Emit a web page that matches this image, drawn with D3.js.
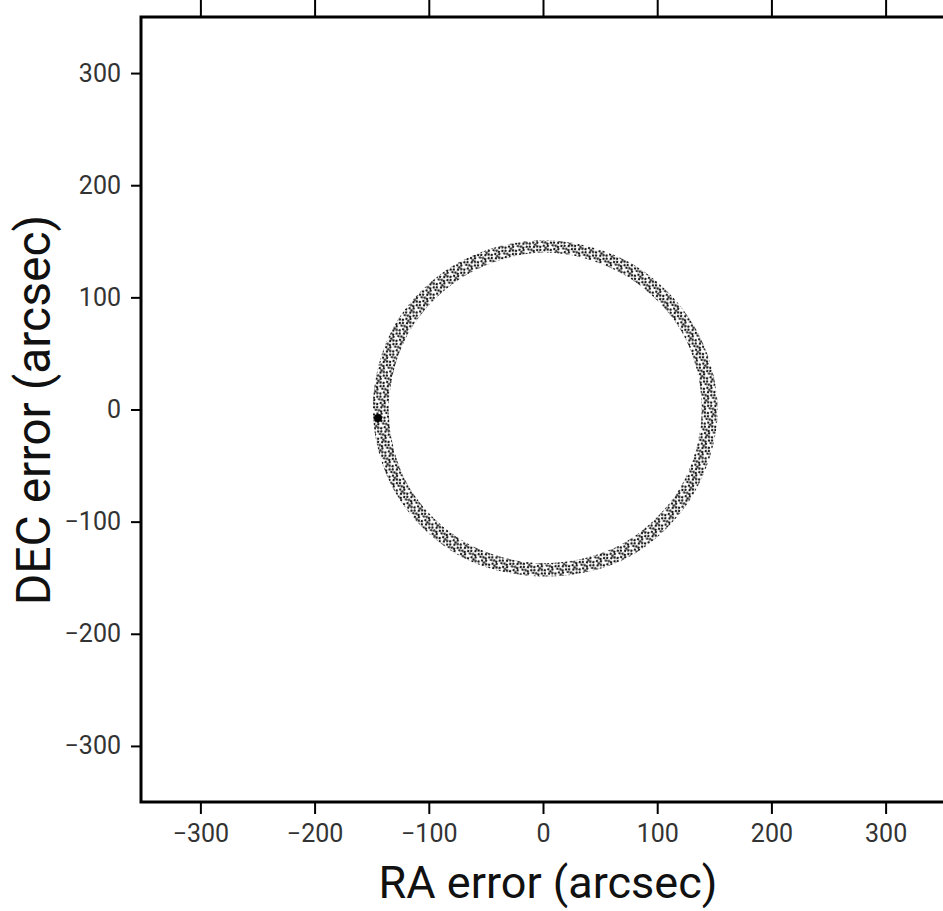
<!DOCTYPE html>
<html>
<head>
<meta charset="utf-8">
<script src="https://cdn.jsdelivr.net/npm/d3@7"></script>
<style>
  body { margin: 0; background: #fff; }
  .tick text { font-family: Roboto, "Open Sans", sans-serif; fill: #333; }
  .title { font-family: Roboto, "Open Sans", sans-serif; fill: #111; }
</style>
</head>
<body>
<div class="chart-container"></div>
<script>
// error ring: position angle (deg) and inner / outer radius (arcsec)
var ringAngle = [0, 30, 60, 90, 120, 150, 180, 210, 240, 270, 300, 330];
var ringInner = [138, 139, 139, 140, 138, 137, 136, 137, 137, 137, 138, 138];
var ringOuter = [152, 151, 151, 151, 151, 151, 150, 150, 150, 149, 151, 151];
var ringCenter = [1, 0];

// the single dense spot on the ring
var spotRA = [-144.5];
var spotDEC = [-7.6];

var xTicks = [-300, -200, -100, 0, 100, 200, 300];
var yTicks = [-300, -200, -100, 0, 100, 200, 300];

var W = 943, H = 911;
var margin = {top: 17, right: -2, bottom: 109, left: 141},
    width = W - margin.left - margin.right,
    height = H - margin.top - margin.bottom;

var x = d3.scaleLinear().domain([-352, 352]).range([0, width]),
    y = d3.scaleLinear().domain([-350, 350]).range([height, 0]);

var svg = d3.select(".chart-container").append("svg")
    .attr("width", W)
    .attr("height", H);

// stipple used to fill the ring band
var pat = svg.append("defs").append("pattern")
    .attr("id", "stipple")
    .attr("patternUnits", "userSpaceOnUse")
    .attr("width", 11).attr("height", 11)
    .attr("patternTransform", "rotate(17)");
[[1, 2], [5, 1], [9, 4], [3, 6], [7, 8], [1.5, 9.5], [9.5, 10], [6, 4.5], [4, 10], [10, 7], [3.5, 3.5]].forEach(function(p) {
    pat.append("circle").attr("cx", p[0]).attr("cy", p[1]).attr("r", 1.2).attr("fill", "#141414");
});

var focus = svg.append("g")
    .attr("transform", "translate(" + margin.left + "," + margin.top + ")");

function ringPoints(radii) {
    return ringAngle.map(function(a, i) {
        var t = a * Math.PI / 180;
        return [ringCenter[0] + radii[i] * Math.cos(t), ringCenter[1] + radii[i] * Math.sin(t)];
    });
}

var ringLine = d3.line()
    .x(function(d) { return x(d[0]); })
    .y(function(d) { return y(d[1]); })
    .curve(d3.curveCardinalClosed);

focus.append("path")
    .attr("class", "ring")
    .attr("d", ringLine(ringPoints(ringOuter)) + ringLine(ringPoints(ringInner)))
    .attr("fill-rule", "evenodd")
    .attr("fill", "url(#stipple)");

focus.selectAll("circle.spot")
    .data(spotRA)
    .enter().append("circle")
    .attr("class", "spot")
    .attr("cx", function(d) { return x(d); })
    .attr("cy", function(d, i) { return y(spotDEC[i]); })
    .attr("r", 4)
    .attr("fill", "#000");

// axes
var xAxis = d3.axisBottom(x).tickValues(xTicks).tickSize(12).tickPadding(10).tickFormat(d3.format("d")),
    xAxisTop = d3.axisTop(x).tickValues(xTicks).tickSize(17).tickFormat(""),
    yAxis = d3.axisLeft(y).tickValues(yTicks).tickSize(10).tickPadding(10).tickFormat(d3.format("d"));

function styleAxis(g) {
    g.select(".domain").remove();
    g.selectAll(".tick line").attr("stroke", "#000").attr("stroke-width", 2);
    g.selectAll(".tick text").style("font-size", "25px");
}

focus.append("g")
    .attr("class", "x axis")
    .attr("transform", "translate(0," + height + ")")
    .call(xAxis).call(styleAxis);

focus.append("g")
    .attr("class", "x axis top")
    .call(xAxisTop).call(styleAxis);

focus.append("g")
    .attr("class", "y axis")
    .call(yAxis).call(styleAxis);

focus.append("rect")
    .attr("width", width)
    .attr("height", height)
    .attr("fill", "none")
    .attr("stroke", "#000")
    .attr("stroke-width", 3);

svg.append("text")
    .attr("class", "title")
    .attr("text-anchor", "middle")
    .attr("x", 548)
    .attr("y", 898)
    .style("font-size", "45px")
    .text("RA error (arcsec)");

svg.append("text")
    .attr("class", "title")
    .attr("text-anchor", "middle")
    .attr("transform", "translate(50,410) rotate(-90)")
    .style("font-size", "48px")
    .text("DEC error (arcsec)");
</script>
</body>
</html>
